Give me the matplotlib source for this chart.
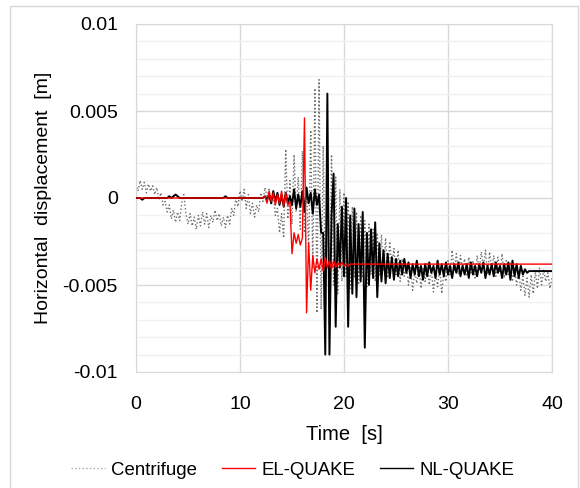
import matplotlib
matplotlib.use("Agg")
import matplotlib.pyplot as plt
import numpy as np
from matplotlib.lines import Line2D
from matplotlib.patches import Rectangle
from matplotlib.ticker import MultipleLocator

plt.rcParams['font.family'] = ['Liberation Sans', 'DejaVu Sans']

# centrifuge record, mm, sampled every 0.2 s from 0 to 40 s
centrifuge_mm = [
    0.8, 0.4, 1.0, 0.5, 0.9, 0.3, 0.8, 0.4, 0.7, 0.2,
    0.6, -0.1, 0.3, -0.4, -0.2, -0.8, -0.4, -1.2, -0.7, -1.4,
    -0.8, -1.3, -0.3, 0.2, -0.9, -1.5, -0.9, -1.6, -1.1, -1.8,
    -1.0, -1.6, -0.8, -1.5, -0.9, -1.7, -1.0, -1.4, -0.7, -1.3,
    -0.9, -1.6, -1.1, -1.7, -1.0, -1.5, -0.6, -1.0, 0.0, -0.5,
    0.4, -0.2, 0.5, -0.6, 0.2, -0.9, -0.3, -1.1, -0.4, -0.8,
    0.3, -0.2, 0.6, 0.1, 0.5, -0.4, 0.2, -1.0, -0.6, -2.0,
    -0.9, -2.3, 2.8, -1.2, 1.0, -1.5, 2.5, -0.8, 1.2, -1.8,
    2.7, -2.0, 0.5, -3.0, 3.9, -4.0, 6.3, -6.6, 6.8, -6.4,
    3.0, -5.5, 2.0, -6.0, 2.5, -5.0, 1.2, -5.5, 0.5, -4.8,
    0.3, -4.5, -0.2, -5.2, -0.5, -4.6, -0.8, -5.0, -1.0, -4.6,
    -1.3, -5.1, -1.5, -4.4, -1.8, -4.8, -2.0, -4.5, -2.1, -4.2,
    -2.3, -4.6, -2.5, -4.0, -2.9, -4.4, -3.0, -4.8, -3.5, -4.5,
    -3.8, -5.0, -4.0, -5.3, -4.2, -4.9, -3.9, -5.2, -4.0, -4.8,
    -3.7, -5.0, -4.1, -5.4, -4.3, -5.1, -4.0, -5.5, -4.2, -4.8,
    -3.6, -4.5, -3.0, -4.2, -3.2, -4.4, -3.3, -4.1, -3.5, -4.5,
    -3.4, -4.3, -3.6, -4.6, -3.3, -4.2, -3.1, -4.0, -3.0, -4.4,
    -3.1, -4.1, -3.3, -4.5, -3.4, -4.3, -3.2, -4.6, -3.6, -4.4,
    -3.7, -4.8, -4.0, -5.0, -4.2, -5.3, -4.5, -5.6, -4.6, -5.7,
    -4.4, -5.5, -4.2, -5.2, -4.0, -5.0, -4.1, -4.8, -4.3, -5.2,
    -4.6,
]

# EL-QUAKE: zero before 12 s, steady after 22 s, 0.2 s samples in between
el_time_s = [0.0] + [round(12.0 + 0.2 * i, 1) for i in range(51)] + [40.0]
el_mm = [0.0] + [
    0.0, 0.0, 0.1, -0.3, 0.4, -0.2, 0.3, -0.4, 0.2, -0.3,
    0.4, -0.5, 0.3, -0.4, -0.2, -3.2, -2.0, -2.6, -2.1, -2.7,
    -2.3, 4.6, -6.6, -2.6, -5.3, -3.3, -4.3, -3.5, -4.1, -3.5,
    -4.2, -3.4, -4.0, -3.6, -4.1, -3.6, -4.0, -3.7, -3.9, -3.7,
    -3.9, -3.8, -3.9, -3.8, -3.8, -3.8, -3.8, -3.8, -3.8, -3.8,
    -3.8,
] + [-3.8]

# NL-QUAKE, mm, every 0.2 s from 0 to 40 s
nl_mm = [
    0.0, 0.0, 0.0, -0.1, 0.0, 0.0, 0.0, 0.0, 0.0, 0.0,
    0.0, 0.0, 0.0, 0.0, 0.0, 0.0, 0.1, 0.0, 0.1, 0.2,
    0.1, 0.0, 0.0, 0.0, 0.0, 0.0, 0.0, 0.0, 0.0, 0.0,
    0.0, 0.0, 0.0, 0.0, 0.0, 0.0, 0.0, 0.0, 0.0, 0.0,
    0.0, 0.0, 0.0, 0.1, 0.0, 0.0, 0.0, 0.0, 0.0, 0.0,
    0.0, 0.0, 0.0, 0.0, 0.0, 0.0, 0.0, 0.0, 0.0, 0.0,
    0.0, 0.0, 0.1, -0.1, 0.2, -0.3, 0.4, -0.2, 0.3, -0.4,
    0.2, -0.5, 0.3, -0.3, 0.1, -0.4, 0.5, -0.6, 0.2, -0.5,
    0.4, -0.8, 0.6, -0.3, 0.3, -0.9, 0.5, -0.4, 0.2, -2.0,
    -2.0, -9.0, 6.0, -9.0, -1.0, 1.4, -7.4, -1.5, -4.0, -0.5,
    -4.5, 0.0, -7.4, -1.0, -5.5, -0.6, -5.7, -1.5, -4.8, -0.8,
    -8.6, -2.0, -5.0, -1.8, -4.6, -1.4, -5.7, -2.6, -4.8, -3.0,
    -4.9, -3.2, -4.6, -3.4, -4.7, -3.5, -4.5, -3.6, -4.4, -3.5,
    -4.3, -3.7, -4.6, -3.8, -4.4, -3.6, -4.5, -3.9, -4.7, -3.8,
    -4.5, -3.7, -4.3, -3.9, -4.6, -3.6, -4.4, -3.8, -4.5, -3.7,
    -4.4, -3.9, -4.6, -3.8, -4.3, -3.7, -4.5, -3.9, -4.4, -3.8,
    -4.6, -3.7, -4.4, -3.9, -4.5, -3.8, -4.3, -3.7, -4.6, -3.9,
    -4.4, -3.8, -4.5, -3.7, -4.3, -3.9, -4.6, -3.8, -4.4, -3.7,
    -4.7, -3.6, -4.5, -3.8, -4.6, -3.9, -4.4, -4.1, -4.3, -4.2,
    -4.2, -4.2, -4.2, -4.2, -4.2, -4.2, -4.2, -4.2, -4.2, -4.2,
    -4.2,
]

series_names = ['Centrifuge', 'EL-QUAKE', 'NL-QUAKE']
y_ticks = [-0.01, -0.005, 0, 0.005, 0.01]
y_tick_labels = ['-0.01', '-0.005', '0', '0.005', '0.01']

t_cf = np.arange(len(centrifuge_mm)) * 0.2
t_nl = np.arange(len(nl_mm)) * 0.2
cf = np.array(centrifuge_mm) / 1000.0
el = np.array(el_mm) / 1000.0
nl = np.array(nl_mm) / 1000.0

fig = plt.figure(figsize=(5.8, 4.88), dpi=100)
# light frame around the whole chart
fig.patches.append(Rectangle((10 / 580, -0.05), 568 / 580, 1.05 - 6 / 488,
                             transform=fig.transFigure, fill=False,
                             edgecolor='#d9d9d9', lw=1))
ax = fig.add_axes([136 / 580, 1 - 372 / 488, 416 / 580, 348 / 488])

ax.plot(t_cf, cf, ls=':', color='#6e6e6e', lw=1.0, zorder=2)
ax.plot(t_nl, nl, color='black', lw=1.4, zorder=3)
ax.plot(el_time_s, el, color='#ff0000', lw=1.0, zorder=4)

ax.set_xlim(0, 40)
ax.set_ylim(-0.01, 0.01)
ax.xaxis.set_major_locator(MultipleLocator(10))
ax.yaxis.set_minor_locator(MultipleLocator(0.001))
ax.set_yticks(y_ticks)
ax.set_yticklabels(y_tick_labels)
ax.grid(which='major', color='#d9d9d9', lw=1)
ax.grid(which='minor', axis='y', color='#f0f0f0', lw=1)
ax.set_axisbelow(True)
ax.tick_params(which='both', length=0, labelsize=14)
ax.tick_params(axis='x', pad=17)
ax.tick_params(axis='y', pad=13)
for s in ax.spines.values():
    s.set_color('#d9d9d9')

ax.set_xlabel('Time  [s]', fontsize=14.5)
ax.set_ylabel('Horizontal  displacement  [m]', fontsize=14)
ax.xaxis.set_label_coords(0.5, -(425 - 372) / 348)
ax.yaxis.set_label_coords((52 - 136) / 416, 0.5)

handles = [
    Line2D([], [], ls=':', color='#a6a6a6', lw=1.0),
    Line2D([], [], color='#ff0000', lw=1.0),
    Line2D([], [], color='black', lw=1.0),
]
fig.legend(handles, series_names,
           loc='center', bbox_to_anchor=(293 / 580, 1 - 470 / 488), ncol=3,
           frameon=False, fontsize=13.4, handlelength=1.8, columnspacing=1.3,
           handletextpad=0.35)

fig.savefig('out.png', dpi=100)
